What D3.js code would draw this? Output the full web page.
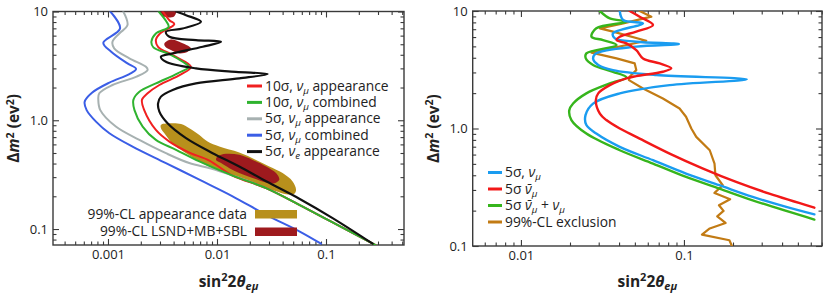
<!DOCTYPE html>
<html><head><meta charset="utf-8">
<script src="https://cdn.jsdelivr.net/npm/d3@7"></script>
<style>body{margin:0;background:#fff}svg{display:block}text{font-family:"Open Sans",sans-serif;fill:#222}</style>
</head><body><svg id="c" width="830" height="307"></svg>
<script>
// ---------- tick labels ----------
const leftXTicks = [0.001, 0.01, 0.1];
const leftXTickLabels = ["0.001", "0.01", "0.1"];
const rightXTicks = [0.01, 0.1];
const rightXTickLabels = ["0.01", "0.1"];
const yTicks = [0.1, 1, 10];
const yTickLabels = ["0.1", "1.0", "10"];

// ---------- left panel series: [sin^2 2theta, dm^2] ----------
const left10sigApp = [[0.00318,10],[0.00366,8.32],[0.00406,7.65],[0.003,6.28],[0.00275,5.46],[0.00288,4.74],[0.00392,3.97],[0.00577,3.1],[0.00458,2.61],[0.00296,2.11],[0.00231,1.77],[0.00205,1.54],[0.00215,1.24],[0.00275,0.815],[0.00366,0.637],[0.00557,0.505],[0.00851,0.426],[0.0139,0.31],[0.0282,0.238],[0.0569,0.167],[0.115,0.115],[0.288,0.0708]];
const left10sigComb = [[0.00292,10],[0.0034,8.21],[0.0036,7.23],[0.00275,6.28],[0.0025,5.27],[0.00261,4.68],[0.00366,4.06],[0.00484,3.45],[0.0055,3.1],[0.00436,2.7],[0.00275,2.18],[0.00194,1.83],[0.00171,1.54],[0.00175,1.24],[0.00208,0.875],[0.00275,0.66],[0.00421,0.535],[0.00689,0.418],[0.0139,0.31],[0.0282,0.238],[0.0569,0.167],[0.115,0.115],[0.288,0.0708]];
const left5sigApp = [[0.00138,10],[0.00151,7.5],[0.00127,6.28],[0.0011,5.27],[0.00114,4.58],[0.00157,3.71],[0.00223,3.1],[0.00231,2.9],[0.00183,2.52],[0.0011,2.11],[0.000832,1.77],[0.000815,1.54],[0.00085,1.24],[0.00118,0.875],[0.00194,0.66],[0.0034,0.498],[0.00557,0.404],[0.0088,0.36],[0.0139,0.31],[0.0282,0.238],[0.0569,0.167],[0.115,0.115],[0.288,0.0708]];
const left5sigComb = [[0.00105,10],[0.00129,6.98],[0.000906,5.16],[0.00107,4.27],[0.00151,3.33],[0.00181,2.96],[0.00157,2.66],[0.00103,2.22],[0.000713,1.79],[0.000611,1.48],[0.000637,1.24],[0.000776,0.972],[0.00103,0.76],[0.00168,0.573],[0.0034,0.404],[0.00689,0.284],[0.0139,0.2],[0.0282,0.135],[0.0569,0.0953],[0.09,0.0733]];
const left5sigNuE = [[0.00421,10],[0.0052,9.25],[0.00713,8.04],[0.00484,6.98],[0.0034,6.5],[0.00366,5.86],[0.00641,5.46],[0.0109,5.27],[0.0074,4.74],[0.00392,4.12],[0.00306,3.84],[0.0034,3.45],[0.00641,3.0],[0.0149,2.79],[0.0292,2.66],[0.016,2.43],[0.00641,2.18],[0.00392,1.9],[0.00306,1.65],[0.00288,1.43],[0.00296,1.2],[0.00352,0.938],[0.0052,0.684],[0.00912,0.498],[0.016,0.376],[0.0282,0.275],[0.0569,0.19],[0.115,0.126],[0.268,0.0733]];
// allowed regions (outlines)
const regionAppData = [[0.00306,0.906],[0.00366,0.938],[0.00468,0.925],[0.00557,0.845],[0.00689,0.733],[0.0082,0.637],[0.0105,0.573],[0.016,0.505],[0.0228,0.432],[0.0302,0.376],[0.04,0.327],[0.0494,0.274],[0.0531,0.23],[0.0512,0.211],[0.043,0.209],[0.0348,0.222],[0.0282,0.238],[0.0212,0.261],[0.016,0.294],[0.0121,0.327],[0.00912,0.363],[0.00689,0.418],[0.0052,0.498],[0.00421,0.573],[0.00366,0.66],[0.00329,0.76],[0.00306,0.845]];
const regionLsndMain = [[0.0101,0.464],[0.0121,0.491],[0.016,0.481],[0.0212,0.432],[0.0282,0.376],[0.0348,0.327],[0.0373,0.284],[0.0336,0.264],[0.0282,0.268],[0.0212,0.294],[0.016,0.327],[0.013,0.363],[0.0109,0.404],[0.0098,0.432]];
const regionLsndMid = [[0.00329,5.08],[0.00378,5.53],[0.00451,5.27],[0.00577,4.58],[0.00538,4.27],[0.00451,4.12],[0.00378,4.42],[0.00336,4.74]];
const regionLsndTop = [[0.00306,10.3],[0.00421,10.3],[0.00406,9.06],[0.00352,8.81],[0.00313,9.25]];

// ---------- right panel series ----------
const right5sigNuMu = [[0.0404,10],[0.0424,8.38],[0.0561,7.85],[0.0367,6.45],[0.0377,5.85],[0.051,5.48],[0.0931,5.23],[0.051,4.97],[0.029,4.36],[0.0277,3.95],[0.0298,3.47],[0.0367,3.14],[0.0678,2.85],[0.243,2.62],[0.0817,2.34],[0.0404,1.99],[0.0277,1.63],[0.0249,1.3],[0.0252,1.07],[0.029,0.906],[0.0404,0.698],[0.0646,0.537],[0.103,0.413],[0.165,0.329],[0.264,0.262],[0.424,0.215],[0.631,0.186]];
const right5sigNuMuBar = [[0.0464,10],[0.0535,8.95],[0.0646,7.6],[0.051,6.67],[0.0404,6.04],[0.0386,5.66],[0.0444,5.3],[0.051,4.65],[0.0561,3.95],[0.071,3.58],[0.0836,3.25],[0.0743,3.04],[0.051,2.79],[0.0444,2.67],[0.0351,2.34],[0.0298,1.99],[0.0288,1.74],[0.0305,1.34],[0.0334,1.18],[0.0404,1.0],[0.051,0.849],[0.0817,0.612],[0.131,0.456],[0.209,0.351],[0.334,0.279],[0.631,0.212]];
const right5sigBoth = [[0.0305,10],[0.0351,8.66],[0.0444,8.11],[0.029,7.12],[0.0271,6.04],[0.0319,5.66],[0.0386,5.13],[0.0252,4.36],[0.025,3.95],[0.0277,3.47],[0.0367,3.04],[0.0444,2.72],[0.0351,2.42],[0.0252,1.99],[0.0209,1.63],[0.0198,1.43],[0.0204,1.18],[0.0252,0.906],[0.0404,0.653],[0.0646,0.503],[0.103,0.387],[0.165,0.308],[0.264,0.245],[0.631,0.168]];
const rightExclusion = [[0.0535,10],[0.0631,8.95],[0.0424,7.85],[0.0305,7.12],[0.0367,6.67],[0.0587,5.58],[0.0271,4.42],[0.0386,3.95],[0.0499,3.58],[0.051,3.14],[0.0464,2.76],[0.046,2.58],[0.0561,2.19],[0.0743,1.8],[0.094,1.48],[0.103,1.26],[0.111,1.0],[0.119,0.849],[0.144,0.653],[0.154,0.503],[0.156,0.4],[0.173,0.329],[0.154,0.283],[0.192,0.25],[0.164,0.222],[0.175,0.199],[0.16,0.179],[0.18,0.157],[0.144,0.141],[0.129,0.125],[0.19,0.112],[0.197,0.1]];

// ---------- drawing ----------
const svg = d3.select("#c");
const AX = "#3a3a3a";
const FS = 13.8;
const leftX = d3.scaleLog().domain([3.13e-4, 0.5195]).range([53, 404]);
const leftY = d3.scaleLog().domain([0.0713, 10]).range([245, 11.5]);
const rightX = d3.scaleLog().domain([0.00506, 0.703]).range([472.7, 822]);
const rightY = d3.scaleLog().domain([0.1, 10]).range([246, 11]);

function minorTicks(dom) {
  const out = [];
  for (let e = Math.floor(Math.log10(dom[0])); e <= Math.ceil(Math.log10(dom[1])); e++)
    for (let k = 2; k <= 9; k++) { const v = k * Math.pow(10, e); if (v > dom[0] && v < dom[1]) out.push(v); }
  return out;
}

function frame(id, x, y, xt, xl, yt, yl) {
  const [x0, x1] = x.range(), [y0, y1] = y.range();
  const g = svg.append("g");
  const defs = svg.append("defs");
  defs.append("clipPath").attr("id", id).append("rect").attr("x", x0).attr("y", y1).attr("width", x1 - x0).attr("height", y0 - y1);
  const mk = (axisFn, scale, vals, size, labels, tr) => {
    const a = axisFn(scale).tickValues(vals).tickSizeInner(size).tickSizeOuter(0).tickPadding(5)
      .tickFormat((d, i) => labels ? labels[i] : "");
    const ag = g.append("g").attr("transform", tr).call(a);
    ag.select(".domain").remove();
    ag.selectAll("line").attr("stroke", AX).attr("stroke-width", 1.1);
    ag.selectAll("text").attr("font-size", 13).attr("fill", "#222").style("font-family", '"Open Sans",sans-serif');
    return ag;
  };
  const xm = minorTicks(x.domain()), ym = minorTicks(y.domain());
  mk(d3.axisBottom, x, xt, -6, xl, `translate(0,${y0})`);
  mk(d3.axisBottom, x, xm, -3.5, null, `translate(0,${y0})`);
  mk(d3.axisTop, x, xt, -6, null, `translate(0,${y1})`);
  mk(d3.axisTop, x, xm, -3.5, null, `translate(0,${y1})`);
  mk(d3.axisLeft, y, yt, -6, yl, `translate(${x0},0)`);
  mk(d3.axisLeft, y, ym, -3.5, null, `translate(${x0},0)`);
  mk(d3.axisRight, y, yt, -6, null, `translate(${x1},0)`);
  mk(d3.axisRight, y, ym, -3.5, null, `translate(${x1},0)`);
  g.append("rect").attr("x", x0).attr("y", y1).attr("width", x1 - x0).attr("height", y0 - y1)
    .attr("fill", "none").attr("stroke", AX).attr("stroke-width", 1.4);
  // titles
  const xt2 = svg.append("text").attr("x", (x0 + x1) / 2).attr("y", 287).attr("text-anchor", "middle")
    .attr("font-size", 15.5).attr("font-weight", "bold");
  xt2.append("tspan").text("sin");
  xt2.append("tspan").text("2").attr("font-size", 11).attr("dy", -6);
  xt2.append("tspan").text("2").attr("dy", 6);
  xt2.append("tspan").text("θ").attr("font-style", "italic");
  xt2.append("tspan").text("eμ").attr("font-style", "italic").attr("font-size", 11).attr("dy", 3);
  const yt2 = svg.append("text").attr("transform", `translate(${x0 - 34},${(y0 + y1) / 2}) rotate(-90)`)
    .attr("text-anchor", "middle").attr("font-size", 15.5).attr("font-weight", "bold");
  yt2.append("tspan").text("Δ");
  yt2.append("tspan").text("m").attr("font-style", "italic");
  yt2.append("tspan").text("2").attr("font-size", 10.5).attr("dy", -5.5);
  yt2.append("tspan").text(" (ev").attr("dy", 5.5);
  yt2.append("tspan").text("2").attr("font-size", 10.5).attr("dy", -5.5);
  yt2.append("tspan").text(")").attr("dy", 5.5);
  return g;
}

function curve(clip, x, y, data, color, w, c) {
  const line = d3.line().x(d => x(d[0])).y(d => y(d[1])).curve(c || d3.curveCatmullRom.alpha(0.5));
  svg.append("path").attr("clip-path", `url(#${clip})`).attr("d", line(data))
    .attr("fill", "none").attr("stroke", color).attr("stroke-width", w).attr("stroke-linejoin", "round").attr("stroke-linecap", "round");
}
function region(clip, x, y, data, color) {
  const line = d3.line().x(d => x(d[0])).y(d => y(d[1])).curve(d3.curveCatmullRomClosed.alpha(0.5));
  svg.append("path").attr("clip-path", `url(#${clip})`).attr("d", line(data)).attr("fill", color).attr("stroke", "none");
}
function rich(t, segs, fs) {
  let shift = 0;
  segs.forEach(s => {
    const ts = t.append("tspan").text(s.t);
    if (s.i) ts.attr("font-style", "italic");
    const target = s.sub ? fs * 0.22 : 0;
    if (s.sub) ts.attr("font-size", fs * 0.7);
    if (target !== shift) { ts.attr("dy", target - shift); shift = target; }
  });
}

// ---- left panel ----
frame("clipL", leftX, leftY, leftXTicks, leftXTickLabels, yTicks, yTickLabels);
const C = { app: "#b8901c", lsnd: "#9e1a1e", red: "#f02020", green: "#2fb32f", grey: "#a7b1b1", blue: "#3b5ee6", black: "#111" };
region("clipL", leftX, leftY, regionAppData, C.app);
region("clipL", leftX, leftY, regionLsndMain, C.lsnd);
region("clipL", leftX, leftY, regionLsndMid, C.lsnd);
region("clipL", leftX, leftY, regionLsndTop, C.lsnd);
curve("clipL", leftX, leftY, left5sigComb, C.blue, 2);
curve("clipL", leftX, leftY, left5sigApp, C.grey, 2);
curve("clipL", leftX, leftY, left10sigApp, C.red, 2);
curve("clipL", leftX, leftY, left10sigComb, C.green, 2);
curve("clipL", leftX, leftY, left5sigNuE, C.black, 2.2);

const leftLegend = [
  { c: C.red, s: [{ t: "10σ, " }, { t: "ν", i: 1 }, { t: "μ", i: 1, sub: 1 }, { t: " appearance" }] },
  { c: C.green, s: [{ t: "10σ, " }, { t: "ν", i: 1 }, { t: "μ", i: 1, sub: 1 }, { t: " combined" }] },
  { c: C.grey, s: [{ t: "5σ, " }, { t: "ν", i: 1 }, { t: "μ", i: 1, sub: 1 }, { t: " appearance" }] },
  { c: C.blue, s: [{ t: "5σ, " }, { t: "ν", i: 1 }, { t: "μ", i: 1, sub: 1 }, { t: " combined" }] },
  { c: C.black, s: [{ t: "5σ, " }, { t: "ν", i: 1 }, { t: "e", i: 1, sub: 1 }, { t: " appearance" }] },
];
leftLegend.forEach((d, i) => {
  const yy = 86 + i * 16.4;
  svg.append("line").attr("x1", 247).attr("x2", 262).attr("y1", yy).attr("y2", yy).attr("stroke", d.c).attr("stroke-width", 3);
  const t = svg.append("text").attr("x", 265).attr("y", yy + 4.5).attr("font-size", FS);
  rich(t, d.s, FS);
});
const regLegend = [{ c: C.app, t: "99%-CL appearance data" }, { c: C.lsnd, t: "99%-CL LSND+MB+SBL" }];
regLegend.forEach((d, i) => {
  const yy = 214 + i * 17.5;
  svg.append("rect").attr("x", 255).attr("y", yy - 4).attr("width", 42).attr("height", 8.5).attr("fill", d.c);
  svg.append("text").attr("x", 247).attr("y", yy + 4.5).attr("text-anchor", "end").attr("font-size", FS).text(d.t);
});

// ---- right panel ----
frame("clipR", rightX, rightY, rightXTicks, rightXTickLabels, yTicks, yTickLabels);
const R = { blue: "#1a9cf0", red: "#f21818", green: "#36b51c", orange: "#c27b14" };
curve("clipR", rightX, rightY, rightExclusion, R.orange, 2.2, d3.curveLinear);
curve("clipR", rightX, rightY, right5sigBoth, R.green, 2.4);
curve("clipR", rightX, rightY, right5sigNuMu, R.blue, 2.4);
curve("clipR", rightX, rightY, right5sigNuMuBar, R.red, 2.4);

const rightLegend = [
  { c: R.blue, s: [{ t: "5σ, " }, { t: "ν", i: 1 }, { t: "μ", i: 1, sub: 1 }] },
  { c: R.red, s: [{ t: "5σ " }, { t: "ν̄", i: 1 }, { t: "μ", i: 1, sub: 1 }] },
  { c: R.green, s: [{ t: "5σ " }, { t: "ν̄", i: 1 }, { t: "μ", i: 1, sub: 1 }, { t: " + " }, { t: "ν", i: 1 }, { t: "μ", i: 1, sub: 1 }] },
  { c: R.orange, s: [{ t: "99%-CL exclusion" }] },
];
rightLegend.forEach((d, i) => {
  const yy = 172.5 + i * 16.5;
  svg.append("line").attr("x1", 488).attr("x2", 502).attr("y1", yy).attr("y2", yy).attr("stroke", d.c).attr("stroke-width", 3);
  const t = svg.append("text").attr("x", 505).attr("y", yy + 4.5).attr("font-size", FS);
  rich(t, d.s, FS);
});
</script></body></html>
